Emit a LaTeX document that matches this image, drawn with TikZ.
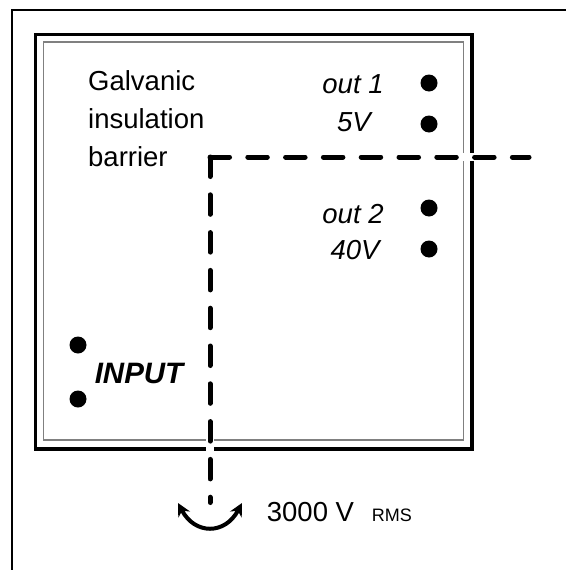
\documentclass[tikz,border=0pt]{standalone}
\usepackage{fontspec}
\setmainfont{Liberation Sans}
\usetikzlibrary{arrows.meta}
\begin{document}
\begin{tikzpicture}[x=1pt,y=-1pt,
  lbl/.style={inner sep=0pt,anchor=base west,font=\fontsize{27.5}{30}\selectfont},
  ilbl/.style={inner sep=0pt,anchor=base,font=\fontsize{27.5}{30}\selectfont\itshape},
  terminal/.style={circle,fill=black,inner sep=0pt,minimum size=17pt},
  barrier/.style={line width=5pt,line cap=round,dash pattern=on 19.5pt off 18.3pt},
  halo/.style={line width=8pt,white}]
\useasboundingbox (0,0) rectangle (565,570);
% outer frame (clipped)
\draw[line width=2.5pt] (12,572) -- (12,10) -- (567,10);
% module box
\draw[line width=3.5pt] (35.5,34.5) rectangle (472,449);
\draw[line width=1.3pt,gray] (43.5,42) rectangle (463.5,440);
% barrier line
\coordinate (corner) at (210,157);
\coordinate (hend) at (529,157);
\coordinate (vend) at (210,502.5);
\draw[halo] (hend) -- (corner) -- (vend);
\draw[barrier] (corner) -- (hend);
\draw[barrier] (corner) -- (vend);
% texts
\node[lbl] (t1) at (88,90) {Galvanic};
\node[lbl] (t2) at (88,128) {insulation};
\node[lbl] (t3) at (88,166) {barrier};
\node[ilbl] (o1) at (353,93) {out 1};
\node[ilbl] (v1) at (354,131.5) {5V};
\node[ilbl] (o2) at (353,223) {out 2};
\node[ilbl] (v2) at (355,259) {40V};
\node[inner sep=0pt,anchor=base,font=\fontsize{29.5}{32}\selectfont\bfseries\itshape] (inp) at (139,383.3) {INPUT};
% terminals
\node[terminal] (d1) at (429,83) {};
\node[terminal] (d2) at (429,124) {};
\node[terminal] (d3) at (429,208) {};
\node[terminal] (d4) at (429,249) {};
\node[terminal] (d5) at (78,345) {};
\node[terminal] (d6) at (78,399) {};
% voltage
\coordinate (al) at (178,503);
\coordinate (ar) at (242,503);
\draw[line width=4pt,{Stealth[length=13pt,width=13pt]}-{Stealth[length=13pt,width=13pt]}]
  (al) .. controls (195,535) and (225,535) .. (ar);
\node[inner sep=0pt,anchor=base west,font=\fontsize{27.5}{30}\selectfont] (kv) at (266.7,521.7) {3000 V};
\node[inner sep=0pt,anchor=base west,font=\fontsize{18}{20}\selectfont] (rms) at (371.7,521.7) {RMS};
\end{tikzpicture}
\end{document}
